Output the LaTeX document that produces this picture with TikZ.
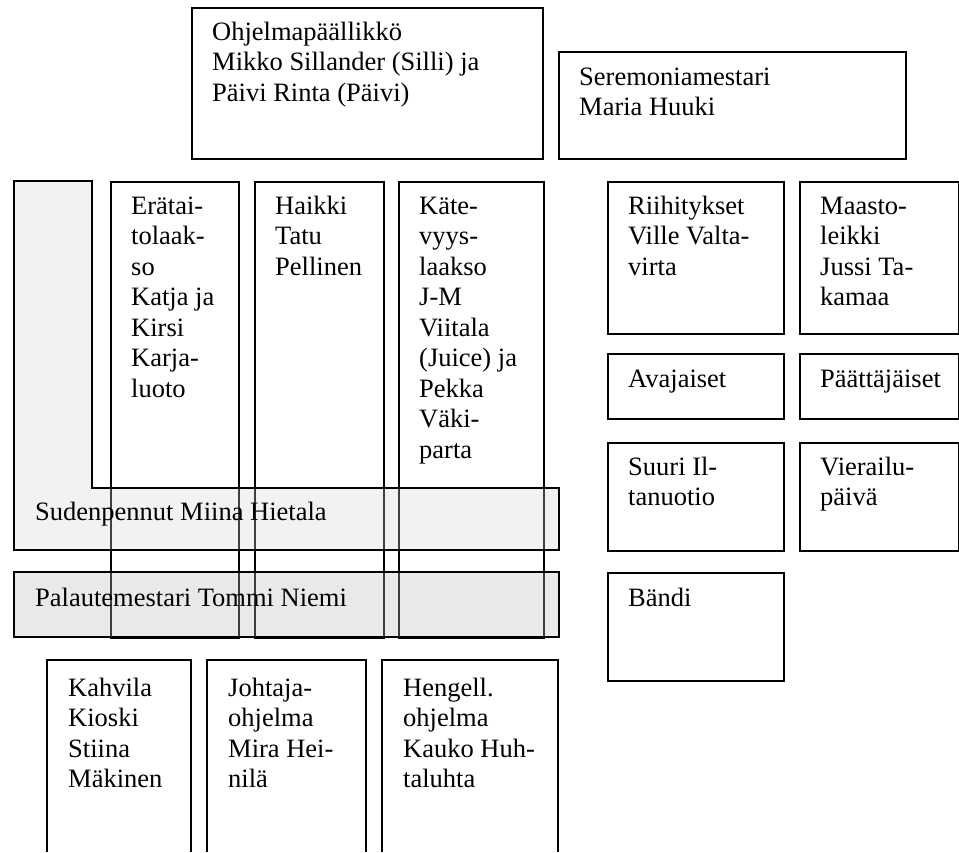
\documentclass[tikz,border=0pt]{standalone}
\usepackage{fontspec}
\setmainfont{Liberation Serif}
\newcommand{\txtlines}[1]{\parbox[t]{14cm}{\raggedright #1}}
\begin{document}
\begin{tikzpicture}[x=1pt,y=-1pt,
  box/.style={draw=black, line width=1.6pt, inner sep=0pt, anchor=north west},
  lbl/.style={inner sep=0pt, anchor=base west, font=\fontsize{26.5}{30.5}\selectfont},
  bandA/.style={draw=black, line width=1.6pt, fill=black!17, fill opacity=0.3},
  bandB/.style={draw=black, line width=1.6pt, fill=black!25, fill opacity=0.33},
  openbox/.style={draw=black, line width=1.6pt}]
\useasboundingbox[fill=white] (0,0) rectangle (959,852);

% columns
\node[box, minimum width=128pt, minimum height=456pt] (col1) at (110,181) {};
\node[box, minimum width=129pt, minimum height=456pt] (col2) at (254,181) {};
\node[box, minimum width=145pt, minimum height=456pt] (col3) at (398,181) {};

% bands
\draw[bandA] (14,181) -- (92,181) -- (92,488) -- (559,488) -- (559,550) -- (14,550) -- cycle;
\draw[black, line width=2.6pt] (14,200) -- (14,223);
\draw[bandB] (14,572) rectangle (559,637);

% top boxes
\node[box, minimum width=351pt, minimum height=151pt] (top1) at (191,7) {};
\node[box, minimum width=347pt, minimum height=107pt] (top2) at (558,51) {};

% right boxes
\node[box, minimum width=176pt, minimum height=152pt] (riih) at (607,181) {};
\node[box, minimum width=159pt, minimum height=152pt] (maasto) at (799,181) {};
\node[box, minimum width=176pt, minimum height=65pt] (avaj) at (607,353) {};
\node[box, minimum width=159pt, minimum height=65pt] (paatt) at (799,353) {};
\node[box, minimum width=176pt, minimum height=108pt] (suuri) at (607,442) {};
\node[box, minimum width=159pt, minimum height=108pt] (vier) at (799,442) {};
\node[box, minimum width=176pt, minimum height=108pt] (bandi) at (607,572) {};

% bottom boxes (cut off by the page edge)
\coordinate (kA) at (47,852); \coordinate (kB) at (191,852);
\coordinate (jA) at (207,852); \coordinate (jB) at (366,852);
\coordinate (hA) at (382,852); \coordinate (hB) at (558,852);
\draw[openbox] (kA) -- (47,660) -- (191,660) -- (kB);
\draw[openbox] (jA) -- (207,660) -- (366,660) -- (jB);
\draw[openbox] (hA) -- (382,660) -- (558,660) -- (hB);

% texts
\node[lbl] (t-top1) at (212,40) {\txtlines{Ohjelmapäällikkö\\Mikko Sillander (Silli) ja\\Päivi Rinta (Päivi)}};
\node[lbl] (t-top2) at (579,85) {\txtlines{Seremoniamestari\\Maria Huuki}};
\node[lbl] (t-col1) at (131,214) {\txtlines{Erätai-\\tolaak-\\so\\Katja ja\\Kirsi\\Karja-\\luoto}};
\node[lbl] (t-col2) at (275,214) {\txtlines{Haikki\\Tatu\\Pellinen}};
\node[lbl] (t-col3) at (419,214) {\txtlines{Käte-\\vyys-\\laakso\\J-M\\Viitala\\(Juice) ja\\Pekka\\Väki-\\parta}};
\node[lbl] (t-riih) at (628,214) {\txtlines{Riihitykset\\Ville Valta-\\virta}};
\node[lbl] (t-maasto) at (820,214) {\txtlines{Maasto-\\leikki\\Jussi Ta-\\kamaa}};
\node[lbl] (t-avaj) at (628,387) {Avajaiset};
\node[lbl] (t-paatt) at (820,387) {Päättäjäiset};
\node[lbl] (t-suuri) at (628,475) {\txtlines{Suuri Il-\\tanuotio}};
\node[lbl] (t-vier) at (820,475) {\txtlines{Vierailu-\\päivä}};
\node[lbl] (t-bandi) at (628,606) {Bändi};
\node[lbl] (t-suden) at (35,520) {Sudenpennut Miina Hietala};
\node[lbl] (t-pal) at (35,606) {Palautemestari Tommi Niemi};
\node[lbl] (t-kahv) at (68,696) {\txtlines{Kahvila\\Kioski\\Stiina\\Mäkinen}};
\node[lbl] (t-joht) at (228,696) {\txtlines{Johtaja-\\ohjelma\\Mira Hei-\\nilä}};
\node[lbl] (t-heng) at (403,696) {\txtlines{Hengell.\\ohjelma\\Kauko Huh-\\taluhta}};
\end{tikzpicture}
\end{document}
